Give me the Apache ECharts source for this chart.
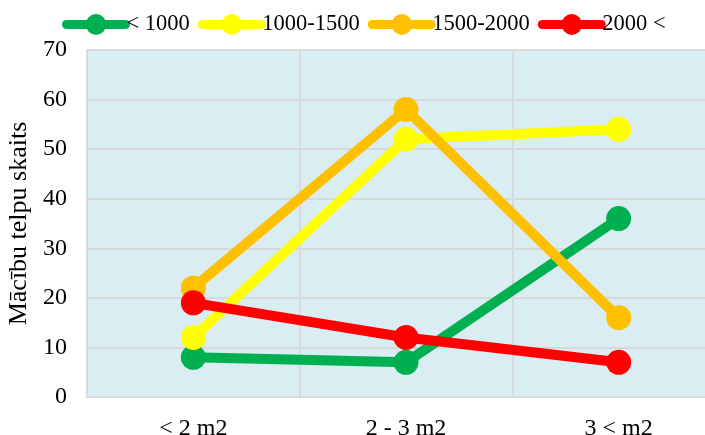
<!DOCTYPE html>
<html>
<head>
<meta charset="utf-8">
<script src="https://cdn.jsdelivr.net/npm/echarts@6/dist/echarts.min.js"></script>
<style>html,body{margin:0;padding:0;background:#fff}#c{width:705px;height:435px}</style>
</head>
<body>
<div id="c"></div>
<script>
const categories = ['< 2 m2', '2 - 3 m2', '3 < m2'];
const seriesNames = ['< 1000', '1000-1500', '1500-2000', '2000 <'];
const s1 = [8, 7, 36];
const s2 = [12, 52, 54];
const s3 = [22, 58, 16];
const s4 = [19, 12, 7];
const yTicks = [0, 10, 20, 30, 40, 50, 60, 70];
const colors = ['#00b050', '#ffff00', '#ffc000', '#ff0000'];
const yAxisName = 'Mācību telpu skaits';

const font = '"Liberation Serif", "Times New Roman", serif';
const chart = echarts.init(document.getElementById('c'), null, {renderer: 'canvas'});
const data = [s1, s2, s3, s4];
chart.setOption({
  animation: false,
  textStyle: {fontFamily: font},
  legend: {
    top: 8,
    left: 57,
    itemWidth: 59,
    itemHeight: 26,
    itemGap: 8,
    lineStyle: {width: 9, cap: 'round'},
    textStyle: {fontFamily: font, fontSize: 22.5, color: '#000', padding: [0, 0, 0, -4]},
    data: seriesNames
  },
  grid: {
    left: 87, top: 50, height: 347, width: 638,
    outerBoundsMode: 'none',
    containLabel: false,
    show: true, backgroundColor: '#daedf3', borderWidth: 0
  },
  xAxis: {
    type: 'category',
    data: categories,
    axisLine: {show: true, lineStyle: {color: '#d9d9d9', width: 2}},
    axisTick: {show: false},
    axisLabel: {fontFamily: font, fontSize: 24, color: '#000', margin: 20},
    splitLine: {show: true, lineStyle: {color: '#d9d9d9', width: 2}}
  },
  yAxis: {
    type: 'value',
    min: yTicks[0], max: yTicks[yTicks.length - 1], interval: 10,
    name: yAxisName,
    nameLocation: 'middle',
    nameGap: 52,
    nameTextStyle: {fontFamily: font, fontSize: 26, color: '#000'},
    axisLine: {show: true, lineStyle: {color: '#d9d9d9', width: 2}},
    axisTick: {show: false},
    axisLabel: {fontFamily: font, fontSize: 24, color: '#000', margin: 20},
    splitLine: {show: true, lineStyle: {color: '#d9d9d9', width: 2}}
  },
  series: seriesNames.map((n, i) => ({
    name: n,
    type: 'line',
    data: data[i],
    symbol: 'circle',
    symbolSize: 25,
    itemStyle: {color: colors[i]},
    lineStyle: {color: colors[i], width: 10, cap: 'round', join: 'round'}
  }))
});
</script>
</body>
</html>
